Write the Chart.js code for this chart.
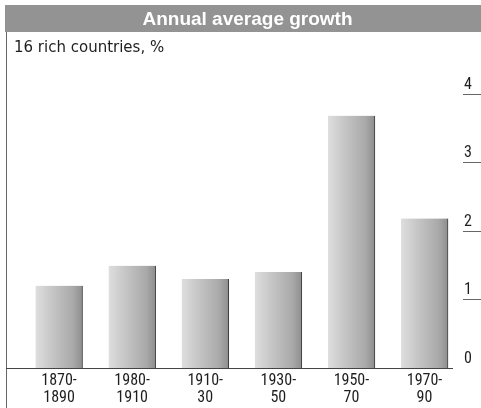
<!DOCTYPE html>
<html><head><meta charset="utf-8">
<script src="https://cdn.jsdelivr.net/npm/chart.js@4.4.1/dist/chart.umd.min.js"></script>
<style>html,body{margin:0;padding:0;background:#fff;overflow:hidden}</style>
</head><body>
<canvas id="c" width="481" height="408" style="display:block"></canvas>
<script>
const categories = [["1870-","1890"],["1980-","1910"],["1910-","30"],["1930-","50"],["1950-","70"],["1970-","90"]];
const growth = [1.20, 1.49, 1.30, 1.40, 3.68, 2.18];
const yTicks = [0, 1, 2, 3, 4];
const titleText = "Annual average growth";
const subtitleText = "16 rich countries, %";

const NARROW = '"Roboto Condensed", "Liberation Sans", sans-serif';

function barFill(c) {
  const chart = c.chart;
  const xs = chart.scales && chart.scales.x;
  if (!xs || !chart.chartArea || c.dataIndex === undefined) return '#bdbdbd';
  const cx = xs.getPixelForValue(c.dataIndex);
  const half = 23.5;
  const g = chart.ctx.createLinearGradient(cx - half, 0, cx + half, 0);
  g.addColorStop(0, '#dedede');
  g.addColorStop(0.35, '#c6c6c6');
  g.addColorStop(0.8, '#a9a9a9');
  g.addColorStop(1, '#8e8e8e');
  return g;
}

const decor = {
  id: 'decor',
  beforeDraw(chart) {
    const ctx = chart.ctx;
    ctx.save();
    ctx.fillStyle = '#939393';
    ctx.fillRect(5, 5, 476, 27);
    ctx.restore();
  },
  afterDraw(chart) {
    const ctx = chart.ctx;
    const ys = chart.scales.y;
    const base = Math.round(ys.getPixelForValue(0)) + 0.5;
    ctx.save();
    ctx.strokeStyle = '#666';
    ctx.lineWidth = 1;
    ctx.beginPath();
    ctx.moveTo(6.5, 32); ctx.lineTo(6.5, 408);
    ctx.stroke();
    ctx.strokeStyle = '#444';
    ctx.beginPath();
    ctx.moveTo(6, base); ctx.lineTo(chart.chartArea.left, base);
    ctx.stroke();
    ctx.strokeStyle = '#666';
    ys.ticks.forEach(t => {
      if (t.value <= 0) return;
      const y = Math.round(ys.getPixelForValue(t.value)) + 0.5;
      ctx.beginPath();
      ctx.moveTo(463, y); ctx.lineTo(481, y);
      ctx.stroke();
    });
    ctx.restore();
  }
};

new Chart(document.getElementById('c'), {
  type: 'bar',
  data: {
    datasets: [{
      data: growth.map((v, i) => ({ x: i, y: v })),
      backgroundColor: barFill,
      borderColor: '#3a3a3a',
      borderWidth: { top: 0, left: 0, bottom: 0, right: 1 },
      borderSkipped: false,
      barThickness: 47
    }]
  },
  options: {
    responsive: false,
    devicePixelRatio: 1,
    animation: false,
    layout: { padding: { left: 14, right: 0, top: 0, bottom: 0 } },
    plugins: {
      legend: { display: false },
      tooltip: { enabled: false },
      title: {
        display: true, text: titleText, color: '#ffffff',
        font: { family: '"Liberation Sans", Arial, sans-serif', size: 19, weight: 'bold' },
        padding: { top: 8, bottom: 4 }
      },
      subtitle: {
        display: true, text: subtitleText, align: 'start', color: '#1e1e1e',
        font: { family: '"DejaVu Sans", sans-serif', size: 15, weight: 'normal' },
        padding: { top: 4, bottom: 37 }
      }
    },
    scales: {
      x: {
        type: 'linear',
        offset: false,
        min: -0.616, max: 5.376,
        afterBuildTicks: s => { s.ticks = categories.map((c, i) => ({ value: i })); },
        afterFit: s => { s.height = 40; },
        grid: { display: false, offset: false, drawTicks: false },
        border: { display: true, color: '#444', width: 1 },
        ticks: {
          callback: v => categories[v],
          color: '#1e1e1e', padding: 5, autoSkip: false, maxRotation: 0,
          font: { family: NARROW, size: 16, lineHeight: 1.05 }
        }
      },
      y: {
        position: 'right',
        min: 0, max: 4,
        afterBuildTicks: s => { s.ticks = yTicks.map(v => ({ value: v })); },
        afterFit: s => { s.width = 29; },
        grid: { display: false, drawTicks: false },
        border: { display: false },
        ticks: {
          color: '#1e1e1e', padding: 12, crossAlign: 'near', labelOffset: -9,
          font: { family: NARROW, size: 16 }
        }
      }
    }
  },
  plugins: [decor]
});
</script>
</body></html>
